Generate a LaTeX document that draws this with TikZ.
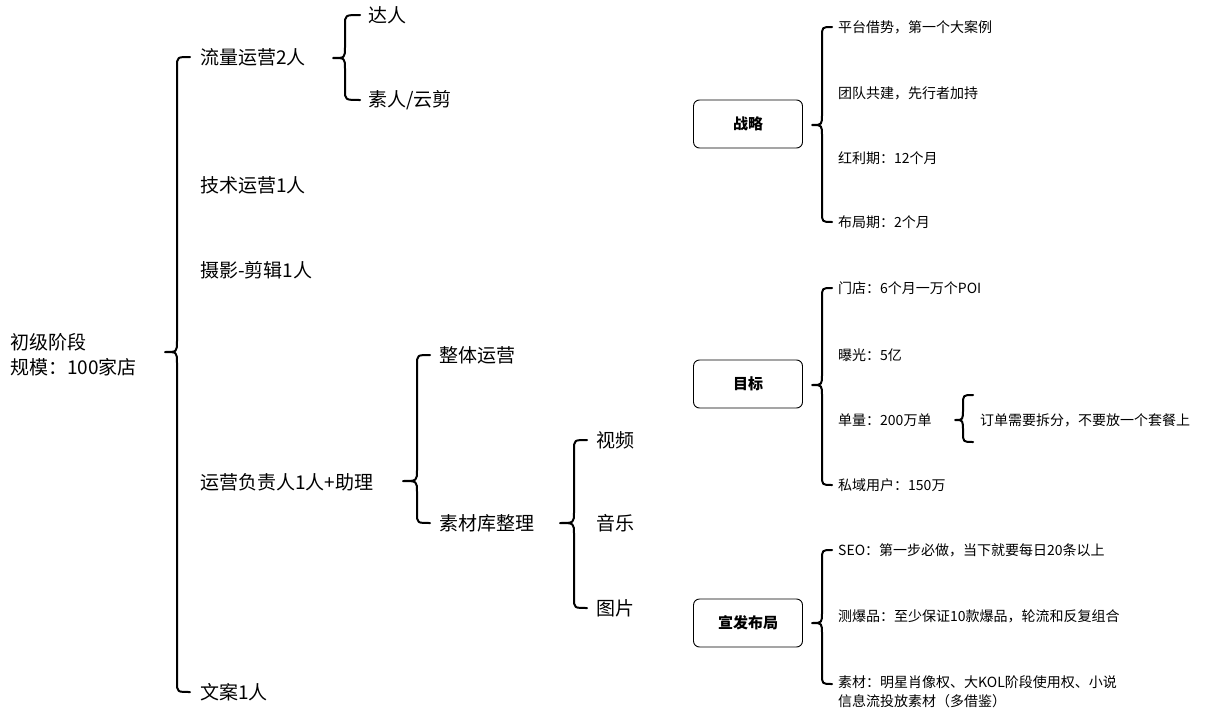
\documentclass[tikz,border=0pt]{standalone}
\usepackage{fontspec}
\setmainfont{Noto Sans CJK SC}
\usetikzlibrary{calc}
\newcommand\mbrace[4]{% #1 tip, #2 top end, #3 bottom end, #4 offset of vertical from tip
  \draw[bracestyle] let \p1=(#1),\p2=(#2),\p3=(#3) in
   (\x2,\y2) .. controls (\x1+#4,\y2) .. (\x1+#4,\y2-10pt)
   -- (\x1+#4,\y1+11pt) .. controls (\x1+#4,\y1) .. (\x1,\y1)
   .. controls (\x1+#4,\y1) .. (\x1+#4,\y1-11pt)
   -- (\x1+#4,\y3+10pt) .. controls (\x1+#4,\y3) .. (\x3,\y3);}
\begin{document}
\begin{tikzpicture}[x=1pt,y=-1pt,
  bracestyle/.style={line width=2pt,line cap=round,line join=round},
  lt/.style={inner sep=0pt,anchor=west,font=\fontsize{19}{25}\selectfont},
  rt/.style={inner sep=0pt,anchor=west,font=\fontsize{14}{19}\selectfont},
  rbox/.style={draw,line width=0.9pt,rounded corners=6pt,minimum width=109pt,minimum height=48pt,inner sep=0pt,font=\fontsize{15}{18}\selectfont\bfseries}]
\useasboundingbox (0,0) rectangle (1221,720);
% left tree
\node[lt,align=left] (root) at (10,355) {初级阶段\\规模：100家店};
\node[lt] (ll) at (200,57) {流量运营2人};
\node[lt] (js) at (200,185) {技术运营1人};
\node[lt] (sy) at (200,270) {摄影-剪辑1人};
\node[lt] (yy) at (200,482) {运营负责人1人+助理};
\node[lt] (wa) at (200,692) {文案1人};
\node[lt] (dr) at (368,15) {达人};
\node[lt] (sr) at (368,100) {素人/云剪};
\node[lt] (zt) at (439,355) {整体运营};
\node[lt] (sc) at (439,523) {素材库整理};
\node[lt] (sp) at (596,440) {视频};
\node[lt] (yl) at (596,523) {音乐};
\node[lt] (tp) at (596,608) {图片};
\coordinate (t0) at (165,352);
\coordinate (t1) at (333,58);
\coordinate (t2) at (403,481);
\coordinate (t3) at (560,523);
\mbrace{t0}{[xshift=-10pt]ll.west}{[xshift=-10pt]wa.west}{12pt}
\mbrace{t1}{[xshift=-8pt]dr.west}{[xshift=-8pt]sr.west}{12pt}
\mbrace{t2}{[xshift=-9pt]zt.west}{[xshift=-9pt]sc.west}{14pt}
\mbrace{t3}{[xshift=-9pt]sp.west}{[xshift=-9pt]tp.west}{14pt}
% right: strategy
\node[rbox] (zl) at (748,124) {战略};
\node[rt] (r1) at (838,27) {平台借势，第一个大案例};
\node[rt] (r2) at (838,93) {团队共建，先行者加持};
\node[rt] (r3) at (838,158) {红利期：12个月};
\node[rt] (r4) at (838,222) {布局期：2个月};
\coordinate (t4) at (812,125);
\mbrace{t4}{[xshift=-6pt]r1.west}{[xshift=-6pt]r4.west}{10pt}
% goals
\node[rbox] (mb) at (748,384) {目标};
\node[rt] (g1) at (838,288) {门店：6个月一万个POI};
\node[rt] (g2) at (838,355) {曝光：5亿};
\node[rt] (g3) at (838,420) {单量：200万单};
\node[rt] (g4) at (838,485) {私域用户：150万};
\coordinate (t5) at (812,385);
\mbrace{t5}{[xshift=-6pt]g1.west}{[xshift=-6pt]g4.west}{10pt}
\node[rt] (dd) at (980,420) {订单需要拆分，不要放一个套餐上};
\coordinate (t6) at (955,420);
\coordinate (d1) at (973,395);
\coordinate (d2) at (973,442);
\mbrace{t6}{d1}{d2}{8pt}
% publicity
\node[rbox] (xf) at (748,623) {宣发布局};
\node[rt] (x1) at (838,550) {SEO：第一步必做，当下就要每日20条以上};
\node[rt] (x2) at (838,616) {测爆品：至少保证10款爆品，轮流和反复组合};
\node[rt,anchor=north west,align=left] (x3) at (838,675) {素材：明星肖像权、大KOL阶段使用权、小说\\信息流投放素材（多借鉴）};
\coordinate (x3e) at (832,684);
\coordinate (t7) at (812,623);
\mbrace{t7}{[xshift=-6pt]x1.west}{x3e}{10pt}
\end{tikzpicture}
\end{document}
